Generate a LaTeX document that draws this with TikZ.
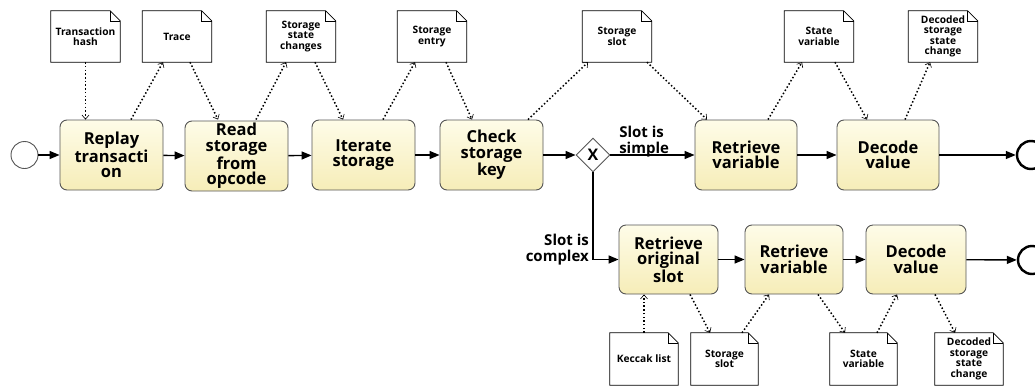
\documentclass[tikz,border=0pt]{standalone}
\usepackage{fontspec}
\setmainfont{Open Sans}
\usetikzlibrary{arrows.meta,shapes.geometric,calc}
\definecolor{tasktop}{RGB}{254,252,232}
\definecolor{taskbot}{RGB}{246,237,184}
\definecolor{taskline}{RGB}{85,85,85}
\begin{document}
\begin{tikzpicture}[x=1pt,y=-1pt,
  task/.style={rectangle, rounded corners=7pt, draw=taskline, line width=0.9pt,
    top color=tasktop, bottom color=taskbot, minimum height=70pt, align=center,
    inner sep=0pt, font=\bfseries\fontsize{16.5}{15.5}\selectfont},
  doc/.style={rectangle, minimum width=69pt, minimum height=51pt, inner sep=0pt,
    align=center, font=\bfseries\fontsize{10.2}{10.5}\selectfont},
  flow/.style={line width=1.4pt, -{Triangle[length=10pt,width=8pt]}},
  assoc/.style={line width=1.5pt, dash pattern=on 1.5pt off 2.2pt,
    -{Straight Barb[length=4pt,width=7pt,line width=0.6pt]}},
  lbl/.style={font=\bfseries\fontsize{15}{16}\selectfont, inner sep=0pt}]
\useasboundingbox (0,0) rectangle (1035,391);

% events
\node[circle, draw=taskline, line width=0.9pt, minimum size=27pt, inner sep=0pt] (start) at (24.5,155) {};
\node[circle, draw=black, line width=2.4pt, minimum size=28pt, inner sep=0pt] (end1) at (1031,155) {};
\node[circle, draw=black, line width=2.4pt, minimum size=28pt, inner sep=0pt] (end2) at (1032,260) {};

% top tasks
\node[task, minimum width=103pt] (t1) at (111.5,155) {Replay\\transacti\\on};
\node[task, minimum width=103pt] (t2) at (236.5,156) {Read\\storage\\from\\opcode};
\node[task, minimum width=103pt] (t3) at (363.5,155) {Iterate\\storage};
\node[task, minimum width=103pt] (t4) at (491.5,155) {Check\\storage\\key};
\node[task, minimum width=102pt] (t5) at (746,155) {Retrieve\\variable};
\node[task, minimum width=102pt] (t6) at (888,155) {Decode\\value};

% gateway
\node[diamond, draw=taskline, line width=0.9pt, fill=white, minimum width=34pt, minimum height=34pt,
  inner sep=0pt, font=\bfseries\fontsize{16}{16}\selectfont] (gw) at (593,155) {X};

% bottom tasks
\node[task, minimum width=99pt, minimum height=69pt] (b1) at (668.5,259.5) {Retrieve\\original\\slot};
\node[task, minimum width=98pt, minimum height=69pt] (b2) at (794,259.5) {Retrieve\\variable};
\node[task, minimum width=100pt, minimum height=69pt] (b3) at (916,259.5) {Decode\\value};

% data objects
\node[doc] (d1) at (85.5,36.5) {Transaction\\hash};
\node[doc] (d2) at (177,36.5) {Trace};
\node[doc] (d3) at (301,36.5) {Storage\\state\\changes};
\node[doc] (d4) at (432,36.5) {Storage\\entry};
\node[doc] (d5) at (617,36.5) {Storage\\slot};
\node[doc] (d6) at (819,36.5) {State\\variable};
\node[doc] (d7) at (943,36.5) {Decoded\\storage\\state\\change};
\node[doc, minimum width=68pt, minimum height=52pt] (e1) at (644,359) {Keccak list};
\node[doc, minimum width=67pt, minimum height=52pt] (e2) at (724.5,359) {Storage\\slot};
\node[doc, minimum width=67pt, minimum height=52pt] (e3) at (863.5,359) {State\\variable};
\node[doc, minimum width=68pt, minimum height=52pt] (e4) at (969,359) {Decoded\\storage\\state\\change};

\foreach \d in {d1,d2,d3,d4,d5,d6,d7,e1,e2,e3,e4}{
  \draw[line width=0.8pt, line join=miter]
    (\d.north west) -- ([xshift=-10pt]\d.north east) -- ([yshift=-10pt]\d.north east)
    -- (\d.south east) -- (\d.south west) -- cycle;
  \draw[line width=0.6pt]
    ([xshift=-10pt]\d.north east) -- ([xshift=-10pt,yshift=-10pt]\d.north east)
    -- ([yshift=-10pt]\d.north east);
}

% sequence flows
\draw[flow] (start) -- (t1);
\draw[flow] (t1) -- (t2);
\draw[flow] (t2) -- (t3);
\draw[flow] (t3) -- (t4);
\draw[flow] (t4) -- (gw);
\draw[flow] (gw) -- node[lbl, above=-3pt, align=left, pos=0.4] (ls) {Slot is\\simple} (t5);
\draw[flow] (t5) -- (t6);
\draw[flow] (t6) -- (end1);
\draw[flow] (gw.south) |- (b1.west);
\node[lbl, align=right, anchor=south east] (lc) at (589,265) {Slot is\\complex};
\draw[flow] (b1) -- (b2);
\draw[flow] (b2) -- (b3);
\draw[flow] (b3) -- (end2);

% data associations top
\draw[assoc] (d1.south) -- (d1.south |- t1.north);
\draw[assoc] ([xshift=19.5pt]t1.north) -- ([xshift=-14pt]d2.south);
\draw[assoc] ([xshift=13pt]d2.south) -- ([xshift=-18.5pt,yshift=1pt]t2.north);
\draw[assoc] ([xshift=19.5pt,yshift=1pt]t2.north) -- ([xshift=-15pt]d3.south);
\draw[assoc] ([xshift=14pt]d3.south) -- ([xshift=-20.5pt]t3.north);
\draw[assoc] ([xshift=19.5pt]t3.north) -- ([xshift=-17pt]d4.south);
\draw[assoc] ([xshift=14pt]d4.south) -- ([xshift=-19.5pt]t4.north);
\draw[assoc] ([xshift=36.5pt]t4.north) -- ([xshift=-29pt]d5.south);
\draw[assoc] ([xshift=30pt]d5.south) -- ([xshift=-39pt]t5.north);
\draw[assoc] ([xshift=22pt]t5.north) -- ([xshift=-17pt]d6.south);
\draw[assoc] ([xshift=16pt]d6.south) -- ([xshift=-21pt]t6.north);
\draw[assoc] ([xshift=17pt]t6.north) -- ([xshift=-13pt]d7.south);

% data associations bottom
\draw[assoc] (e1.north) -- (e1.north |- b1.south);
\draw[assoc] ([xshift=21.5pt]b1.south) -- ([xshift=-14.5pt]e2.north);
\draw[assoc] ([xshift=17.5pt]e2.north) -- ([xshift=-25pt]b2.south);
\draw[assoc] ([xshift=24pt]b2.south) -- ([xshift=-18.5pt]e3.north);
\draw[assoc] ([xshift=13.5pt]e3.north) -- ([xshift=-19pt]b3.south);
\draw[assoc] ([xshift=19pt]b3.south) -- ([xshift=-14pt]e4.north);
\end{tikzpicture}
\end{document}
